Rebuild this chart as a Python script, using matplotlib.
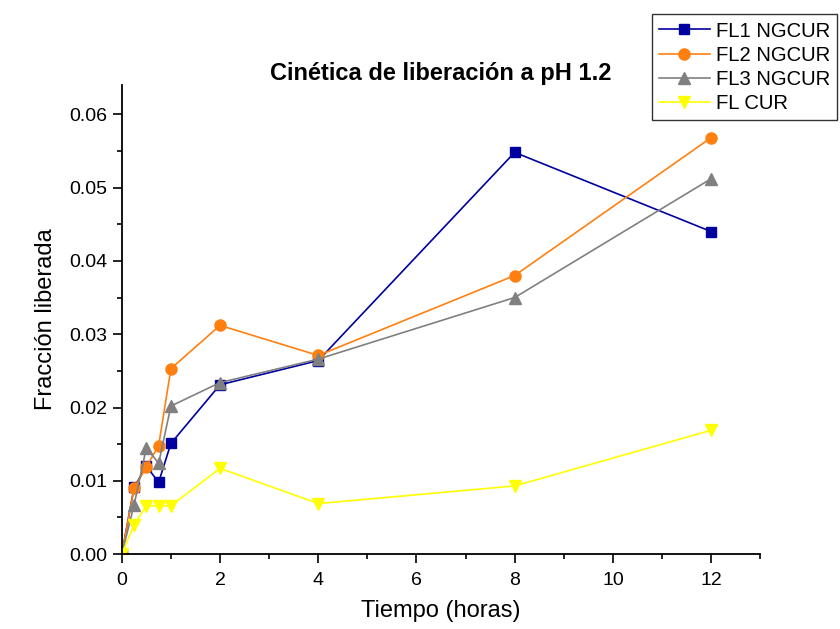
import matplotlib.pyplot as plt
from matplotlib.ticker import MultipleLocator, FormatStrFormatter

plt.rcParams['font.family'] = ['Liberation Sans', 'DejaVu Sans']

# Release times (hours) and released fraction for each formulation
tiempo = [0, 0.25, 0.5, 0.75, 1, 2, 4, 8, 12]
fl1_ngcur = [0.0, 0.0091, 0.0120, 0.0098, 0.0151, 0.0231, 0.0264, 0.0548, 0.0440]
fl2_ngcur = [0.0, 0.0090, 0.0119, 0.0148, 0.0253, 0.0312, 0.0271, 0.0380, 0.0568]
fl3_ngcur = [0.0, 0.0067, 0.0145, 0.0124, 0.0202, 0.0234, 0.0266, 0.0350, 0.0512]
fl_cur = [0.0, 0.0040, 0.0066, 0.0066, 0.0066, 0.0117, 0.0069, 0.0093, 0.0169]

fig = plt.figure(figsize=(8.4, 6.29), dpi=100)
ax = fig.add_axes([0.145, 0.119, 0.76, 0.746])

ax.plot(tiempo, fl1_ngcur, color='#0000A0', marker='s', markersize=7, lw=1.2, label='FL1 NGCUR')
ax.plot(tiempo, fl2_ngcur, color='#FF8010', marker='o', markersize=8, lw=1.2, label='FL2 NGCUR')
ax.plot(tiempo, fl3_ngcur, color='#808080', marker='^', markersize=8, lw=1.2, label='FL3 NGCUR')
ax.plot(tiempo, fl_cur, color='#FFFF00', marker='v', markersize=8, lw=1.2, label='FL CUR')

ax.set_xlim(0, 13)
ax.set_ylim(0, 0.064)
ax.xaxis.set_major_locator(MultipleLocator(2))
ax.xaxis.set_minor_locator(MultipleLocator(1))
ax.yaxis.set_major_locator(MultipleLocator(0.01))
ax.yaxis.set_minor_locator(MultipleLocator(0.005))
ax.yaxis.set_major_formatter(FormatStrFormatter('%.2f'))
ax.tick_params(which='major', direction='out', length=6.5, width=1.2, labelsize=14)
ax.tick_params(axis='y', which='major', pad=4)
ax.tick_params(axis='x', which='major', pad=6)
ax.tick_params(which='minor', direction='out', length=3.5, width=1.2)
for s in ['top', 'right']:
    ax.spines[s].set_visible(False)
for s in ['left', 'bottom']:
    ax.spines[s].set_linewidth(1.3)

ax.set_xlabel('Tiempo (horas)', fontsize=17, labelpad=8)
ax.set_ylabel('Fracción liberada', fontsize=17, labelpad=9)
fig.text(0.525, 0.883, 'Cinética de liberación a pH 1.2', ha='center', va='center',
         fontsize=17, fontweight='bold')

# legend sits at the top-right corner, kept fully inside the figure
leg = fig.legend(loc='upper left', bbox_to_anchor=(0.776, 0.977), fontsize=14.6,
                 frameon=True, fancybox=False, edgecolor='black', borderaxespad=0,
                 handlelength=2.5, labelspacing=0.25, borderpad=0.35, handletextpad=0.3)
leg.get_frame().set_linewidth(1.0)

fig.savefig('out.png', dpi=100)
